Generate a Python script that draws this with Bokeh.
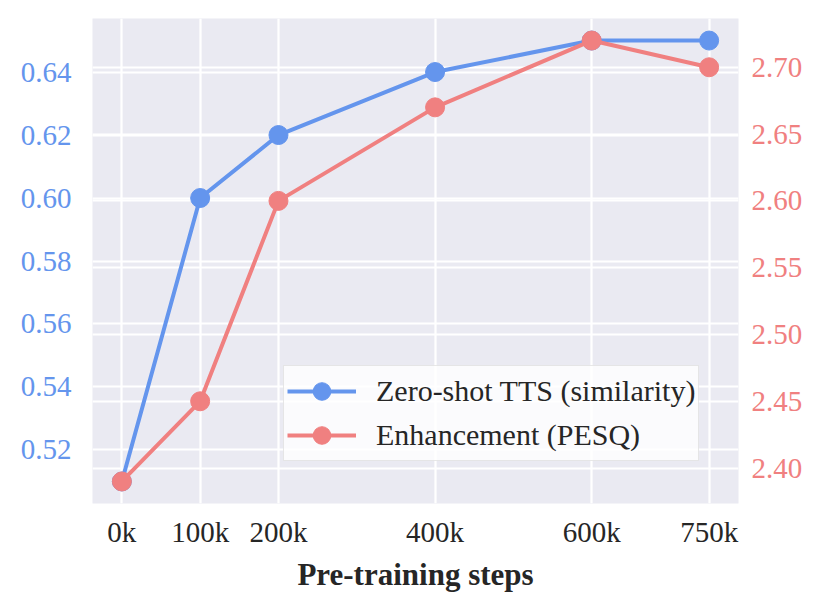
from bokeh.plotting import figure
from bokeh.models import Range1d, LinearAxis, FixedTicker, Grid, Legend, LegendItem
from bokeh.embed import file_html
from bokeh.resources import INLINE

steps = [0, 100, 200, 400, 600, 750]
step_labels = ["0k", "100k", "200k", "400k", "600k", "750k"]
similarity = [0.51, 0.60, 0.62, 0.64, 0.65, 0.65]
pesq = [2.39, 2.45, 2.60, 2.67, 2.72, 2.70]
left_ticks = [0.52, 0.54, 0.56, 0.58, 0.60, 0.62, 0.64]
right_ticks = [2.40, 2.45, 2.50, 2.55, 2.60, 2.65, 2.70]

BLUE = "#6495ED"
RED = "#F08080"
FONT = "Liberation Serif"

def padded(vals, frac=0.05):
    lo, hi = min(vals), max(vals)
    d = (hi - lo) * frac
    return lo - d, hi + d

x0, x1 = padded(steps)
l0, l1 = padded(similarity)
r0, r1 = padded(pesq)

p = figure(width=815, height=590, output_backend="svg", toolbar_location=None,
           x_range=Range1d(x0, x1), y_range=Range1d(l0, l1),
           min_border_left=92, min_border_right=77, min_border_top=18, min_border_bottom=87)
p.frame_width = 646
p.frame_height = 485
p.background_fill_color = "#EAEAF2"
p.border_fill_color = "white"
p.outline_line_color = None

p.extra_y_ranges = {"right": Range1d(r0, r1)}

# grids
p.xgrid.ticker = FixedTicker(ticks=steps)
p.ygrid.ticker = FixedTicker(ticks=left_ticks)
for g in (p.xgrid, p.ygrid):
    g.grid_line_color = "white"
    g.grid_line_width = 2.2
rgrid = Grid(dimension=1, ticker=FixedTicker(ticks=right_ticks), y_range_name="right",
             grid_line_color="white", grid_line_width=2.2)
p.add_layout(rgrid)

def style_axis(ax, color, size="29px"):
    ax.axis_line_color = None
    ax.major_tick_line_color = None
    ax.minor_tick_line_color = None
    ax.major_tick_out = 0
    ax.major_tick_in = 0
    ax.minor_tick_out = 0
    ax.minor_tick_in = 0
    ax.major_label_text_color = color
    ax.major_label_text_font = FONT
    ax.major_label_text_font_size = size

# x axis
xa = p.xaxis[0]
xa.ticker = FixedTicker(ticks=steps)
xa.major_label_overrides = {s: l for s, l in zip(steps, step_labels)}
style_axis(xa, "#262626")
xa.major_label_standoff = 12
xa.axis_label = "Pre-training steps"
xa.axis_label_text_font = FONT
xa.axis_label_text_font_style = "bold"
xa.axis_label_text_font_size = "31px"
xa.axis_label_text_color = "#262626"
xa.axis_label_standoff = 6

# left axis
ya = p.yaxis[0]
ya.ticker = FixedTicker(ticks=left_ticks)
ya.major_label_overrides = {t: f"{t:.2f}" for t in left_ticks}
style_axis(ya, BLUE)
ya.major_label_standoff = 21

# right axis
ra = LinearAxis(y_range_name="right", ticker=FixedTicker(ticks=right_ticks))
ra.major_label_overrides = {t: f"{t:.2f}" for t in right_ticks}
style_axis(ra, RED)
ra.major_label_standoff = 13
p.add_layout(ra, "right")

b_line = p.line(steps, similarity, line_color=BLUE, line_width=4)
b_pts = p.scatter(steps, similarity, size=19, fill_color=BLUE, line_color=BLUE)
r_line = p.line(steps, pesq, line_color=RED, line_width=4, y_range_name="right")
r_pts = p.scatter(steps, pesq, size=19, fill_color=RED, line_color=RED, y_range_name="right")

legend = Legend(items=[
    LegendItem(label="Zero-shot TTS (similarity)", renderers=[b_line, b_pts]),
    LegendItem(label="Enhancement (PESQ)", renderers=[r_line, r_pts]),
], location=(191, 42))
legend.label_text_font = FONT
legend.label_text_font_size = "30px"
legend.label_text_color = "#262626"
legend.glyph_width = 69
legend.glyph_height = 44
legend.label_height = 44
legend.spacing = 0
legend.padding = 3
legend.margin = 0
legend.label_standoff = 20
legend.background_fill_color = "white"
legend.background_fill_alpha = 0.8
legend.border_line_color = "#D0D0D0"
legend.border_line_width = 1
p.add_layout(legend, "center")

open("out.html", "w").write(file_html(p, INLINE))
